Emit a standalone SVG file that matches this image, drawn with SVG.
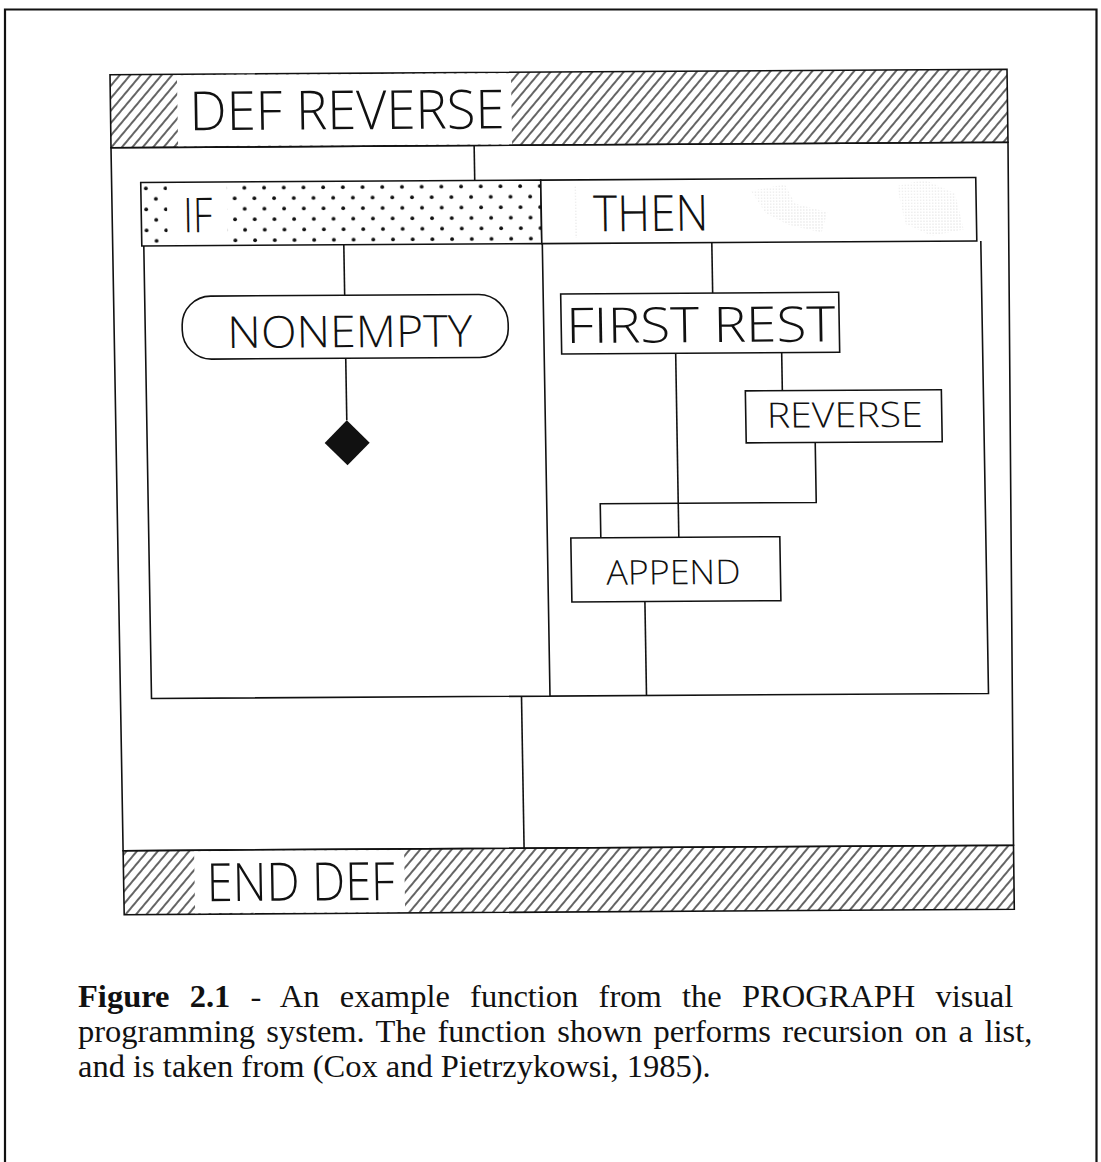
<svg xmlns="http://www.w3.org/2000/svg" width="1101" height="1162" viewBox="0 0 1101 1162">
  <style>
    .ln { fill: none; stroke: #111; stroke-width: 1.6; }
    .box { fill: #fff; stroke: #111; stroke-width: 1.6; }
    .band { fill: url(#hatch); stroke: #111; stroke-width: 1.6; }
    .lbl { font-family: "Open Sans", "Liberation Sans", sans-serif; font-weight: 300; fill: #111; }
    .cap { font-family: "Liberation Serif", "Times New Roman", serif; font-size: 32.5px; fill: #111; }
  </style>
  <defs>
    <pattern id="hatch" width="8" height="8" patternUnits="userSpaceOnUse" patternTransform="rotate(40)">
      <line x1="4" y1="-1" x2="4" y2="9" stroke="#111" stroke-width="1.3"/>
    </pattern>
    <pattern id="dots" width="19.7" height="21" patternUnits="userSpaceOnUse" x="146" y="180">
      <circle cx="5" cy="6" r="1.9" fill="#111"/>
      <circle cx="14.85" cy="16.5" r="1.9" fill="#111"/>
    </pattern>
    <pattern id="stip" width="3" height="3" patternUnits="userSpaceOnUse">
      <rect x="1" y="1" width="1" height="1" fill="#999"/>
    </pattern>
  </defs>
  <rect width="1101" height="1162" fill="#fff"/>

  <g id="frame">
    <path d="M5 1162 V9.5 H1096.5 V1162" fill="none" stroke="#111" stroke-width="2.2"/>
  </g>

  <g id="body">
    <path class="box" d="M111 147.7 L1008 142.3 L1013.5 845.2 L123.1 850.7 Z"/>
    <path class="band" d="M110 74.7 L1007 69.3 L1008 142.3 L111 147.7 Z"/>
    <path class="band" d="M123.1 850.7 L1013.5 845.2 L1014.3 909.2 L124.2 914.7 Z"/>
  </g>

  <g id="diagram" transform="matrix(1,-0.006,0.017,1,-8.33,3.36)">
    <g id="def-reverse">
      <rect x="184" y="73" width="334" height="71" fill="#fff"/>
      <text class="lbl" x="196" y="128" font-size="54" textLength="315" lengthAdjust="spacingAndGlyphs">DEF REVERSE</text>
    </g>

    <g id="if-then">
      <rect x="146" y="180" width="400" height="63.5" fill="url(#dots)" stroke="#111" stroke-width="1.6"/>
      <rect x="172" y="182" width="60" height="59" fill="#fff"/>
      <text class="lbl" x="188" y="230" font-size="48" textLength="29" lengthAdjust="spacingAndGlyphs">IF</text>
      <rect x="546" y="180" width="435" height="63.5" fill="#fff" stroke="#111" stroke-width="1.6"/>
      <g opacity="0.35">
        <rect x="579" y="186" width="3" height="52" fill="url(#stip)"/>
        <path d="M756 192 L790 186 L800 205 L832 214 L826 234 L792 226 L770 214 Z" fill="url(#stip)"/>
        <path d="M902 188 L930 182 L960 196 L968 232 L936 238 L910 226 Z" fill="url(#stip)"/>
      </g>
      <text class="lbl" x="598" y="231.5" font-size="50" textLength="115" lengthAdjust="spacingAndGlyphs">THEN</text>
      <path class="ln" d="M148 243.5 V696 H985 V243.5 M546.5 243.5 V696"/>
    </g>

    <g id="nonempty">
      <rect class="box" x="185" y="294" width="326" height="63" rx="29" ry="29"/>
      <text class="lbl" x="230" y="346" font-size="44" textLength="245" lengthAdjust="spacingAndGlyphs">NONEMPTY</text>
    </g>

    <g id="diamond">
      <path d="M348 419 L370.5 441.5 L348 464 L325.5 441.5 Z" fill="#111"/>
    </g>

    <g id="first-rest">
      <rect class="box" x="564" y="294" width="278" height="60"/>
      <text class="lbl" x="569" y="343" font-size="49" textLength="269" lengthAdjust="spacingAndGlyphs">FIRST REST</text>
    </g>

    <g id="reverse">
      <rect class="box" x="747" y="392" width="196" height="52"/>
      <text class="lbl" x="768" y="429" font-size="35" textLength="156" lengthAdjust="spacingAndGlyphs">REVERSE</text>
    </g>

    <g id="append">
      <rect class="box" x="570" y="538" width="209" height="64"/>
      <text class="lbl" x="605" y="585" font-size="34" textLength="134" lengthAdjust="spacingAndGlyphs">APPEND</text>
    </g>

    <g id="end-def">
      <rect x="188" y="849" width="210" height="62" fill="#fff"/>
      <text class="lbl" x="200" y="899" font-size="53" textLength="188" lengthAdjust="spacingAndGlyphs">END DEF</text>
    </g>

    <g id="connectors">
      <path class="ln" d="M480 145 V180"/>
      <path class="ln" d="M348 243.5 V294"/>
      <path class="ln" d="M348 357 V419"/>
      <path class="ln" d="M716 243.5 V294"/>
      <path class="ln" d="M784 354 V392"/>
      <path class="ln" d="M678 354 V538"/>
      <path class="ln" d="M816 444 V504 H600 V538"/>
      <path class="ln" d="M643 602 V696"/>
      <path class="ln" d="M518 696 V848"/>
    </g>
  </g>

  <g id="caption">
    <text class="cap" x="78" y="1007" word-spacing="12.1"><tspan font-weight="bold">Figure 2.1</tspan> - An example function from the PROGRAPH visual</text>
    <text class="cap" x="78" y="1042" word-spacing="3.3">programming system. The function shown performs recursion on a list,</text>
    <text class="cap" x="78" y="1077">and is taken from (Cox and Pietrzykowsi, 1985).</text>
  </g>
</svg>
